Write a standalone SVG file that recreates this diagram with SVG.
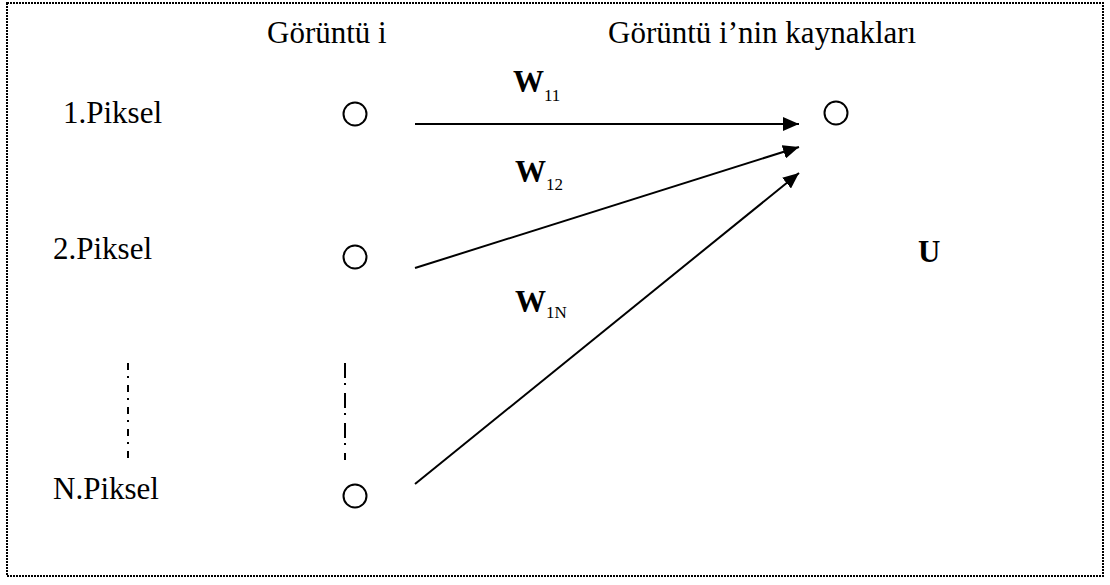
<svg xmlns="http://www.w3.org/2000/svg" width="1110" height="585" viewBox="0 0 1110 585">
<style>
.t{font-family:"Liberation Serif","Times New Roman",serif;font-size:31px;fill:#000}
.b{font-weight:bold}
.s{font-size:17px;font-weight:normal}
.node{fill:none;stroke:#000;stroke-width:2}
.edge{stroke:#000;stroke-width:2;fill:none}
</style>
<defs>
<marker id="ah" viewBox="0 0 16 14" refX="16" refY="7" markerWidth="16" markerHeight="14" markerUnits="userSpaceOnUse" orient="auto">
<path d="M0,0 L16,7 L0,14 Z" fill="#000"/>
</marker>
</defs>
<rect x="7" y="3" width="1096" height="573" fill="#fff" stroke="#000" stroke-width="2" stroke-dasharray="2,1"/>
<g id="headers">
<text class="t" x="267" y="43">Görüntü i</text>
<text class="t" x="608" y="43">Görüntü i’nin kaynakları</text>
</g>
<g id="labels">
<text class="t" x="63" y="123">1.Piksel</text>
<text class="t" x="53" y="259">2.Piksel</text>
<text class="t" x="53" y="499">N.Piksel</text>
</g>
<g id="pixel1"><circle class="node" cx="355" cy="114" r="11.5"/></g>
<g id="pixel2"><circle class="node" cx="355" cy="257" r="11.5"/></g>
<g id="pixelN"><circle class="node" cx="355" cy="496" r="11.5"/></g>
<g id="source"><circle class="node" cx="836" cy="113" r="11.5"/></g>
<g id="U"><text class="t b" x="918" y="262">U</text></g>
<g id="dots">
<line x1="128" y1="363" x2="128" y2="460" stroke="#000" stroke-width="2" stroke-dasharray="7,6,2,7"/>
<line x1="345" y1="363" x2="345" y2="460" stroke="#000" stroke-width="2" stroke-dasharray="15,5,2,8"/>
</g>
<g id="connectors">
<line class="edge" x1="415" y1="124" x2="799" y2="124" marker-end="url(#ah)"/>
<line class="edge" x1="415" y1="268" x2="799" y2="147" marker-end="url(#ah)"/>
<line class="edge" x1="415" y1="484" x2="799" y2="173" marker-end="url(#ah)"/>
<text class="t b" x="513" y="92">W<tspan class="s" dy="9">11</tspan></text>
<text class="t b" x="515" y="182">W<tspan class="s" dy="8">12</tspan></text>
<text class="t b" x="515" y="312">W<tspan class="s b" dy="6">1N</tspan></text>
</g>
</svg>
